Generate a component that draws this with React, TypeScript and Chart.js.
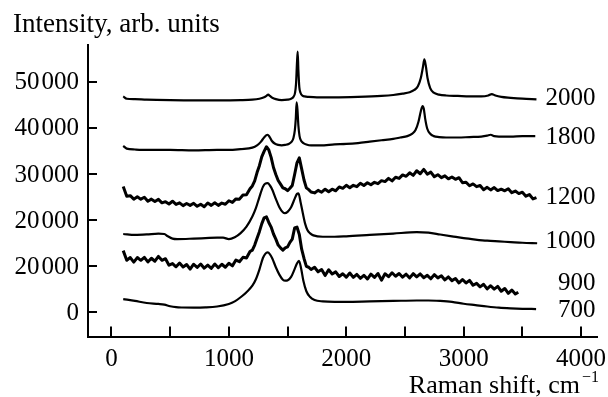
import React, { useEffect, useRef } from 'react';
import { Chart, registerables } from 'chart.js';
Chart.register(...registerables);

// ---- data (Raman shift in cm^-1, intensity in arb. units, spectra offset) ----
const x700 = [100,200,300,400,450,500,550,600,700,800,900,1000,1050,1100,1150,1200,1230,1260,1290,1310,1330,1350,1370,1400,1430,1460,1480,1500,1530,1560,1580,1597,1615,1635,1660,1690,1730,1800,1900,2000,2200,2400,2600,2700,2800,2900,3000,3100,3200,3300,3400,3500,3617];
const y700 = [2900,2500,2050,1850,1700,1350,1150,1080,1050,1100,1300,1850,2400,3300,4400,5800,7200,9300,11800,12700,13000,12600,11700,9800,8200,7100,6900,6950,7700,9400,10600,11200,9600,6800,4600,3400,2700,2400,2300,2300,2400,2500,2600,2600,2500,2300,1900,1600,1300,1050,900,800,750];

const x900 = [100,130,160,190,220,250,280,310,340,370,400,430,460,490,520,550,580,610,640,670,700,730,760,790,820,850,880,910,940,970,1000,1030,1060,1090,1120,1150,1180,
  1200,1220,1240,1260,1280,1300,1320,1340,1360,1380,1400,1420,1440,1460,1480,1500,1520,1540,1560,1580,1600,1620,1640,1660,1680,1700,
  1730,1760,1790,1820,1850,1880,1910,1940,1970,2000,2030,2060,2090,2120,2150,2180,2210,2240,2270,2300,2330,2360,2390,2420,2450,2480,2510,2540,2570,2600,2630,2660,2690,2720,2750,2780,2810,2840,2870,2900,2930,2960,2990,3020,3050,3080,3110,3140,3170,3200,3230,3260,3290,3320,3350,3380,3410,3440,3465];
const y900 = [13400,11300,11900,10900,11900,11300,11950,10950,11750,11100,12150,11300,11650,10250,10600,9900,10700,9850,10400,9400,10450,9750,10500,9600,10250,9550,10500,9700,10450,9800,10650,10100,11350,11000,11950,11800,13200,
  13500,14600,16100,17500,19200,20500,20700,19500,18500,17000,15900,14600,14000,13500,14000,14200,15200,15900,18300,18500,16900,13700,11700,10000,9800,9300,
  9800,8800,9300,8000,9250,8350,8800,7800,8400,7650,8550,7600,8250,7400,8050,7250,8300,7600,8450,7000,8400,7750,8600,7850,8450,7650,8300,7500,8400,7700,8350,7550,8050,7300,8200,7500,7950,7050,7700,6900,7350,6400,7150,6400,6950,5900,6300,5550,6100,5100,5800,5050,5650,4600,5200,4150,4850,4000,4400];

const x1000 = [100,200,300,400,450,480,520,560,700,800,900,950,1000,1050,1100,1150,1200,1230,1260,1290,1310,1330,1350,1370,1400,1430,1460,1477,1500,1530,1560,1580,1593,1610,1630,1650,1670,1690,1720,1800,1900,2000,2200,2400,2600,2700,2800,2900,3000,3100,3200,3300,3400,3500,3626];
const y1000 = [17000,16800,16900,17100,17000,16500,16000,15900,16000,16100,16200,16200,15900,16300,17200,18600,20800,22600,25000,27200,27900,28000,27500,26600,24600,22800,21700,21500,21800,22800,24600,25700,25800,24000,21500,19200,17800,17200,16700,16400,16400,16500,16800,17100,17400,17300,16900,16500,16100,15800,15550,15400,15250,15100,15000];

const x1200 = [100,130,160,190,220,250,280,310,340,370,400,430,460,490,520,550,580,610,640,670,700,730,760,790,820,850,880,910,940,970,1000,1030,1060,1090,1120,1150,1180,
  1200,1220,1240,1260,1280,1300,1320,1340,1360,1380,1400,1420,1440,1460,1480,1500,1520,1540,1560,1580,1600,1620,1640,1660,1680,1700,
  1730,1760,1790,1820,1850,1880,1910,1940,1970,2000,2030,2060,2090,2120,2150,2180,2210,2240,2270,2300,2330,2360,2390,2420,2450,2480,2510,2540,2570,2600,2630,2660,2690,2720,2750,2780,2810,2840,2870,2900,2930,2960,2990,3020,3050,3080,3110,3140,3170,3200,3230,3260,3290,3320,3350,3380,3410,3440,3470,3500,3530,3560,3590,3620];
const y1200 = [27300,25200,25300,24550,25050,24550,24950,24100,24550,24050,24500,23750,24000,23500,24100,23400,23750,23150,23600,23200,23650,23000,23450,22900,23700,23200,23750,23200,23700,23450,24200,23850,24600,24550,25450,25500,26800,
  27400,28500,30300,31800,33700,34900,35900,35200,33600,31400,29900,28600,27800,27000,26800,26400,26900,27500,29900,32400,33500,31100,28700,27000,26600,26100,
  25900,26450,26050,26700,26150,26700,26350,27200,26900,27550,27000,27550,27250,28000,27500,28100,27650,28200,27900,28550,28350,29050,28500,29300,29050,29800,29500,30250,29700,30700,30050,31000,29950,30400,29400,29850,29200,29600,28950,29350,28850,29200,28100,28200,27450,27850,27250,27500,26600,27100,26550,27050,26400,26700,26350,26800,25950,26300,25750,26050,25200,25550,24600,24900];

const x1800 = [100,130,200,300,500,700,900,1000,1100,1200,1240,1270,1300,1320,1330,1345,1365,1390,1420,1450,1480,1510,1535,1550,1562,1570,1577,1584,1592,1602,1615,1635,1660,1700,1780,1900,2000,2100,2200,2300,2400,2460,2520,2560,2590,2615,2635,2650,2660,2672,2690,2715,2745,2790,2850,2950,3050,3150,3200,3230,3260,3300,3400,3500,3610];
const y1800 = [36100,35500,35300,35200,35200,35100,35200,35200,35400,35700,36200,36900,37900,38400,38500,38100,37200,36600,36300,36200,36300,36500,37000,37800,39500,42000,45500,44000,40500,38200,37200,36700,36400,36200,36200,36400,36500,36700,37000,37300,37600,37900,38200,38700,39500,41300,43600,44700,44200,42000,39800,38700,38200,38000,37900,37900,38000,38100,38300,38500,38200,38100,38100,38200,38200];

const x2000 = [100,130,200,300,500,700,900,1100,1200,1260,1300,1320,1335,1350,1370,1400,1450,1500,1530,1550,1563,1572,1580,1586,1592,1600,1610,1625,1645,1680,1750,1900,2100,2300,2400,2480,2540,2580,2610,2635,2652,2665,2677,2692,2715,2745,2790,2850,2950,3050,3150,3210,3240,3270,3320,3400,3500,3620];
const y2000 = [46800,46300,46200,46100,46000,45950,45950,46000,46100,46300,46600,46900,47200,46900,46500,46200,46000,46100,46300,46700,47500,49500,54000,56500,52500,48800,47600,47000,46800,46700,46600,46600,46700,46900,47100,47400,47700,48200,49000,50800,53000,54800,53500,50800,48600,47600,47200,47000,46900,46800,46800,47000,47300,47000,46700,46500,46300,46150];

const seriesNames = ['700', '900', '1000', '1200', '1800', '2000'];
const seriesLabelY = [690, 6540, 15630, 25150, 38030, 46470];
const noisySeries = ['900', '1200'];

const xTickValues = [0, 500, 1000, 1500, 2000, 2500, 3000, 3500, 4000];
const xTickLabels = ['0', '', '1000', '', '2000', '', '3000', '', '4000'];
const yTickValues = [0, 10000, 20000, 30000, 40000, 50000];
const yTickLabels = ['0', '20\u200a000', '20\u200a000', '30\u200a000', '40\u200a000', '50\u200a000'];
const yAxisTitle = 'Intensity, arb. units';
const xAxisTitle = 'Raman shift, cm';
const xAxisTitleSup = '\u22121';

const FONT = "'Liberation Serif', 'Times New Roman', serif";

const allX = [x700, x900, x1000, x1200, x1800, x2000];
const allY = [y700, y900, y1000, y1200, y1800, y2000];

const decorPlugin = {
  id: 'decor',
  afterDraw(chart: any) {
    const { ctx, chartArea, scales } = chart;
    const xs = scales.x;
    const ys = scales.y;
    ctx.save();
    ctx.strokeStyle = '#000';
    ctx.lineWidth = 2;
    // inward tick marks
    xTickValues.forEach((v) => {
      const px = Math.round(xs.getPixelForValue(v));
      ctx.beginPath();
      ctx.moveTo(px, chartArea.bottom);
      ctx.lineTo(px, chartArea.bottom - 10);
      ctx.stroke();
    });
    yTickValues.forEach((v) => {
      const py = Math.round(ys.getPixelForValue(v));
      ctx.beginPath();
      ctx.moveTo(chartArea.left, py);
      ctx.lineTo(chartArea.left + 9, py);
      ctx.stroke();
    });
    ctx.fillStyle = '#000';
    ctx.font = `25px ${FONT}`;
    // x tick labels
    ctx.textAlign = 'center';
    ctx.textBaseline = 'alphabetic';
    xTickValues.forEach((v, i) => {
      if (!xTickLabels[i]) return;
      ctx.fillText(xTickLabels[i], xs.getPixelForValue(v), chartArea.bottom + 29);
    });
    // y tick labels
    ctx.textAlign = 'right';
    ctx.textBaseline = 'middle';
    yTickValues.forEach((v, i) => {
      ctx.fillText(yTickLabels[i], chartArea.left - 9, ys.getPixelForValue(v) + 1);
    });
    // series labels
    seriesNames.forEach((name, i) => {
      ctx.fillText(name, chartArea.right - 2, ys.getPixelForValue(seriesLabelY[i]) + 1);
    });
    // axis titles
    ctx.textAlign = 'left';
    ctx.textBaseline = 'alphabetic';
    ctx.font = `27px ${FONT}`;
    ctx.fillText(yAxisTitle, 13, 32);
    ctx.textAlign = 'right';
    ctx.font = `26px ${FONT}`;
    ctx.fillText(xAxisTitle, 580, 393);
    ctx.textAlign = 'left';
    ctx.font = `16px ${FONT}`;
    ctx.fillText(xAxisTitleSup, 582, 382);
    ctx.restore();
  },
};

export default function App() {
  const ref = useRef<HTMLCanvasElement>(null);
  useEffect(() => {
    document.body.style.margin = '0';
    const canvas = ref.current;
    if (!canvas) return;
    const datasets = seriesNames.map((name, i) => {
      const noisy = noisySeries.includes(name);
      return {
        label: name,
        data: allX[i].map((x, j) => ({ x, y: allY[i][j] })),
        borderColor: '#000',
        backgroundColor: '#000',
        borderWidth: noisy ? 3 : 2.2,
        borderJoinStyle: 'round',
        pointRadius: 0,
        fill: false,
        tension: 0,
        cubicInterpolationMode: noisy ? 'default' : 'monotone',
      };
    });
    const chart = new Chart(canvas, {
      type: 'line',
      data: { datasets } as any,
      plugins: [decorPlugin],
      options: {
        animation: false,
        responsive: false,
        layout: { padding: { left: 0, right: 10.5, top: 44.7, bottom: 0 } },
        plugins: { legend: { display: false }, tooltip: { enabled: false } },
        scales: {
          x: {
            type: 'linear',
            min: -200,
            max: 4140,
            grid: { display: false, drawTicks: false },
            border: { display: true, color: '#000', width: 2 },
            ticks: { display: false },
            afterBuildTicks: (s: any) => { s.ticks = xTickValues.map((value) => ({ value })); },
            afterFit: (s: any) => { s.height = 60.5; },
          },
          y: {
            type: 'linear',
            min: -5200,
            max: 58000,
            grid: { display: false, drawTicks: false },
            border: { display: true, color: '#000', width: 2 },
            ticks: { display: false },
            afterBuildTicks: (s: any) => { s.ticks = yTickValues.map((value) => ({ value })); },
            afterFit: (s: any) => { s.width = 88; },
          },
        },
      } as any,
    });
    return () => chart.destroy();
  }, []);
  return (
    <div style={{ position: 'absolute', left: 0, top: 0, width: 608, height: 397, background: '#fff' }}>
      <canvas ref={ref} width={608} height={397} style={{ display: 'block' }} />
    </div>
  );
}
